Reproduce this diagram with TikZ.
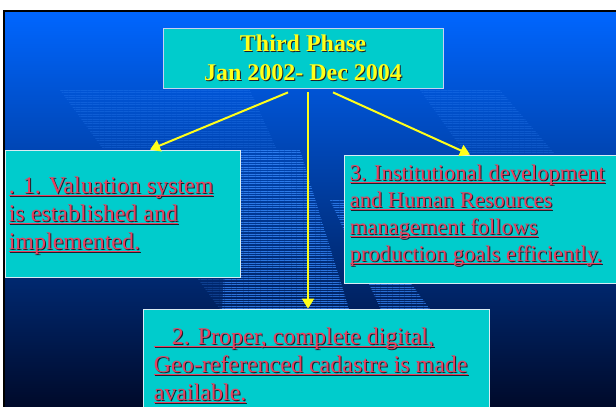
\documentclass[tikz,border=0pt]{standalone}
\usepackage{fontspec}
\setmainfont{Liberation Serif}
\usepackage{tikz}
\usetikzlibrary{positioning, calc, arrows.meta, patterns.meta}

\definecolor{slidetop}{HTML}{0066FF}
\definecolor{slidemid}{HTML}{0046C4}
\definecolor{slidebot}{HTML}{000A2A}
\definecolor{boxcyan}{HTML}{00CCCC}
\definecolor{boxedge}{HTML}{D8ECF4}
\definecolor{titleedge}{HTML}{C8D0F0}
\definecolor{txtred}{HTML}{E8405E}
\definecolor{txtshade}{HTML}{1E1E2A}
\definecolor{titleyellow}{HTML}{FFFF1A}
\definecolor{stripe}{HTML}{3A8CFF}

% underline and small dark shadow
\newsavebox{\linebox}
\newcommand{\ulined}[1]{\sbox{\linebox}{#1}\rlap{\rule[-3pt]{\wd\linebox}{1.5pt}}\usebox{\linebox}}
\newcommand{\shadowed}[2]{\leavevmode\rlap{\hspace{1pt}\raisebox{-1pt}{\color{txtshade}#2}}{\color{#1}#2}}
\newcommand{\redline}[1]{\shadowed{txtred}{\ulined{#1}}}
\newcommand{\yelline}[1]{\shadowed{titleyellow}{#1}}

\begin{document}
\begin{tikzpicture}[x=1pt, y=-1pt,
    panel/.style={draw=boxedge, line width=0.8pt, fill=boxcyan, inner sep=0pt},
    body/.style={align=left, inner sep=0pt, anchor=base west, font=\fontsize{24}{28}\selectfont},
    heading/.style={align=center, inner sep=0pt, font=\bfseries\fontsize{24}{29}\selectfont},
    link/.style={draw=titleyellow, line width=2pt, -{Triangle[width=12pt, length=10pt]}},
    band/.style={pattern={Lines[angle=0, distance=2.4pt, line width=0.9pt]}, pattern color=stripe}]
    \useasboundingbox (0,0) rectangle (616,407);
    \clip (0,0) rectangle (616,407);

    % slide background
    \fill[white] (0,0) rectangle (616,407);
    \shade[top color=slidetop, middle color=slidemid, bottom color=slidebot] (4,11) rectangle (616,407);
    \fill[band, opacity=0.25] (60,90) -- (250,90) -- (350,312) -- (222,312) -- cycle;
    \fill[band, opacity=0.7] (230,150) -- (300,150) -- (350,312) -- (222,312) -- cycle;
    \fill[band, opacity=0.7] (330,200) -- (350,200) -- (432,312) -- (382,312) -- cycle;
    \fill[band, opacity=0.25] (420,90) -- (500,90) -- (560,160) -- (470,160) -- cycle;
    \draw[black, line width=2pt] (4,407) -- (4,11) -- (616,11);

    % boxes
    \node[panel, draw=titleedge, minimum width=280, minimum height=60] (title) at (303,58) {};
    \node[panel, minimum width=235, minimum height=127] (b1) at (122.5,213.5) {};
    \node[panel, minimum width=346, minimum height=132] (b2) at (316,375) {};
    \node[panel, minimum width=286, minimum height=128] (b3) at (487,219) {};

    % texts (base = last line)
    \node[heading] (titletxt) at (title.center) {\yelline{Third Phase}\\\yelline{Jan 2002- Dec 2004}};
    \node[body] (t1) at ([shift={(4,35.5)}]b1.west)
        {\redline{. 1. Valuation system}\\\redline{is established and}\\\redline{implemented.}};
    \node[body] (t2) at ([shift={(11,25)}]b2.west)
        {\redline{~~~2. Proper, complete digital,}\\\redline{Geo-referenced cadastre is made}\\\redline{available.}};
    \node[body, font=\fontsize{22.5}{27}\selectfont] (t3) at ([shift={(6,42)}]b3.west)
        {\redline{3. Institutional development}\\\redline{and Human Resources}\\\redline{management follows}\\\redline{production goals efficiently.}};

    % arrows
    \coordinate (fromL) at ($(title.south)+(-15,4)$);
    \coordinate (fromM) at ($(title.south)+(5,4)$);
    \coordinate (fromR) at ($(title.south)+(30,4)$);
    \draw[link] (fromL) -- ([xshift=27.5pt]b1.north);
    \draw[link] (fromM) -- ([xshift=-8pt]b2.north);
    \draw[link] (fromR) -- ([xshift=-17pt]b3.north);
\end{tikzpicture}
\end{document}
